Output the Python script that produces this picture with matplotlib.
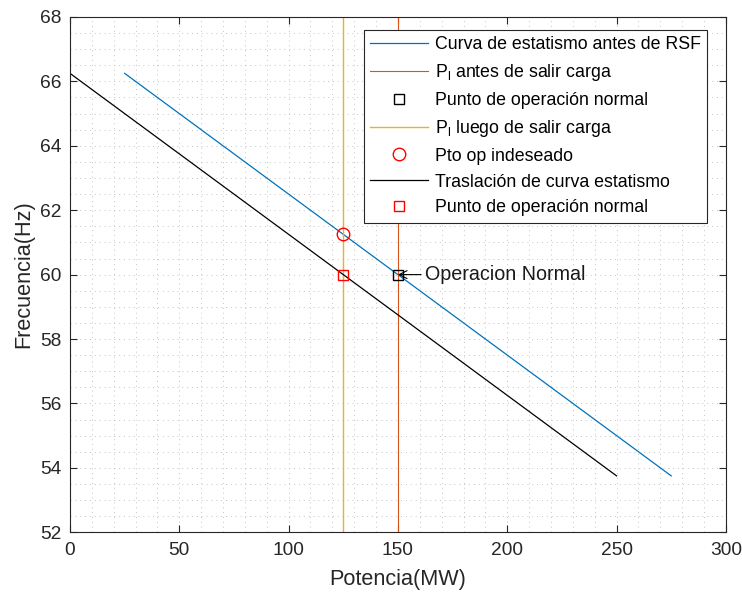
import numpy as np
import matplotlib
matplotlib.use('Agg')
import matplotlib.pyplot as plt
from matplotlib.ticker import MultipleLocator

plt.rcParams['font.family'] = ['Liberation Sans', 'DejaVu Sans']
plt.rcParams['mathtext.fontset'] = 'custom'
plt.rcParams['mathtext.rm'] = 'Liberation Sans'

# droop curves (MW, Hz)
p_antes = [25, 275]
f_antes = [66.25, 53.75]
p_trasl = [0, 250]
f_trasl = [66.25, 53.75]

# load levels
p_antes_carga = 150
p_luego_carga = 125
f_rango = [52, 68]

# operating points
op_normal = (150, 60)
op_indeseado = (125, 61.25)
op_nuevo = (125, 60)

fig = plt.figure(figsize=(7.42, 5.96), dpi=100)
ax = fig.add_axes([0.0943, 0.107, 0.884, 0.8645])

ax.plot(p_antes, f_antes, color='#0072BD', lw=0.9, label='Curva de estatismo antes de RSF')
ax.plot([p_antes_carga, p_antes_carga], f_rango, color='#D95319', lw=0.8,
        label=r'P$_\mathrm{l}$ antes de salir carga')
ax.plot(*op_normal, 's', ms=7, mfc='none', mec='black', mew=1,
        label='Punto de operación normal')
ax.plot([p_luego_carga, p_luego_carga], f_rango, color='#EDB120', lw=1,
        label=r'P$_\mathrm{l}$ luego de salir carga')
ax.plot(*op_indeseado, 'o', ms=9, mfc='none', mec='red', mew=1,
        label='Pto op indeseado')
ax.plot(p_trasl, f_trasl, color='black', lw=0.9, label='Traslación de curva estatismo')
ax.plot(*op_nuevo, 's', ms=7, mfc='none', mec='red', mew=1,
        label='Punto de operación normal')

ax.annotate('Operacion Normal', xy=op_normal, xytext=(162.5, 60), fontsize=14.2,
            va='center', ha='left', color='#1a1a1a',
            arrowprops=dict(arrowstyle='->', color='black', lw=0.8,
                            shrinkA=1, shrinkB=0))

ax.set_xlim(0, 300)
ax.set_ylim(52, 68)
ax.xaxis.set_major_locator(MultipleLocator(50))
ax.yaxis.set_major_locator(MultipleLocator(2))
ax.xaxis.set_minor_locator(MultipleLocator(10))
ax.yaxis.set_minor_locator(MultipleLocator(0.5))
ax.grid(which='both', linestyle=(0, (1, 4)), color='#c4c4c4', lw=0.7)
ax.set_axisbelow(True)
ax.tick_params(which='both', direction='in', top=True, right=True, labelsize=13.8,
               colors='#262626')
ax.tick_params(which='minor', length=0)
ax.tick_params(which='major', length=5, width=0.8)
ax.tick_params(axis='x', pad=7)
ax.tick_params(axis='y', pad=6)
for s in ax.spines.values():
    s.set_color('#262626')
    s.set_linewidth(0.8)

ax.set_xlabel('Potencia(MW)', fontsize=15.6, color='#262626', labelpad=7)
ax.set_ylabel('Frecuencia(Hz)', fontsize=15.6, color='#262626', labelpad=4)

leg = ax.legend(loc='upper right', fontsize=12.8, fancybox=False, framealpha=1,
                edgecolor='#262626', bbox_to_anchor=(0.971, 0.975),
                borderaxespad=0, handlelength=3.3, labelspacing=0.5,
                borderpad=0.35, handletextpad=0.35)
leg.get_frame().set_linewidth(0.8)

fig.savefig('out.png', dpi=100)
